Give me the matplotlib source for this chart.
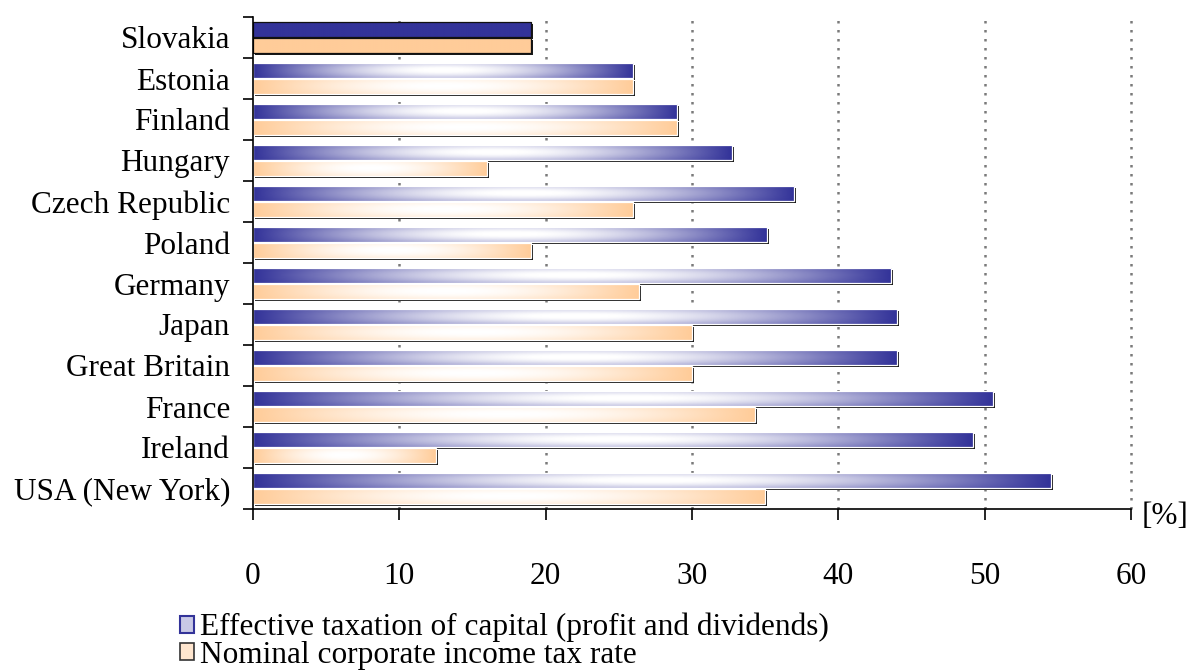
import numpy as np
import matplotlib
matplotlib.use('Agg')
import matplotlib.pyplot as plt
from matplotlib.patches import Rectangle, Patch
from matplotlib.colors import to_rgb
import matplotlib.transforms as mtransforms

countries = ['Slovakia', 'Estonia', 'Finland', 'Hungary', 'Czech Republic', 'Poland',
             'Germany', 'Japan', 'Great Britain', 'France', 'Ireland', 'USA (New York)']
effective = [19, 26, 29, 32.7, 37, 35.1, 43.6, 44, 44, 50.6, 49.2, 54.5]
nominal = [19, 26, 29, 16, 26, 19, 26.4, 30, 30, 34.3, 12.5, 35]
xticks = [0, 10, 20, 30, 40, 50, 60]
series_labels = ['Effective taxation of capital (profit and dividends)',
                 'Nominal corporate income tax rate']

BLUE = '#333399'
ORANGE = '#FFCC99'
FONT = 'Liberation Serif'
FS = 22.5

plt.rcParams['font.family'] = [FONT, 'DejaVu Serif']

fig = plt.figure(figsize=(11.89, 6.71), dpi=100)
ax = fig.add_axes([253/1189, 1-509/671, 878/1189, 492/671])

n = len(countries)
h = 0.38


def grad_array(base, solid=False):
    nx, ny = 300, 24
    b = np.array(to_rgb(base))
    if solid:
        return np.tile(b, (ny, nx, 1))
    t = np.linspace(0, 1, nx)
    s = np.linspace(0, 1, ny)
    wh = np.sin(np.pi * t)
    wv = 0.72 + 0.28 * np.sin(np.pi * s)
    w = np.clip(wv[:, None] * wh[None, :] * 1.02, 0, 1)
    return b[None, None, :] + (1 - b[None, None, :]) * w[:, :, None]


shadow_tr = mtransforms.offset_copy(ax.transData, fig=fig, x=2, y=-2, units='dots')


def draw_bar(x, yc, color, solid):
    y0 = yc - h / 2
    sh = Rectangle((0, y0), x, h, transform=shadow_tr, facecolor='#1a1a1a',
                   edgecolor='none', zorder=2)
    ax.add_patch(sh)
    rect = Rectangle((0, y0), x, h, facecolor='none',
                     edgecolor='#111111' if solid else 'white', lw=0.9, zorder=4)
    ax.add_patch(rect)
    im = ax.imshow(grad_array(color, solid), extent=[0, x, y0, y0 + h],
                   aspect='auto', interpolation='bilinear', zorder=3, origin='lower')
    im.set_clip_path(rect)


for i, (c, e, nm) in enumerate(zip(countries, effective, nominal)):
    y = n - 1 - i
    solid = (i == 0)
    draw_bar(e, y + h / 2 + 0.005, BLUE, solid)
    draw_bar(nm, y - h / 2 - 0.005, ORANGE, solid)

ax.set_xlim(0, 60)
ax.set_ylim(-0.5, n - 0.5)

for xv in xticks[1:]:
    ax.axvline(xv, color='#7a7a7a', lw=1.8, linestyle=(0, (1, 2.6)), zorder=1,
               clip_on=False)

ax.set_xticks(xticks)
ax.set_xticklabels([str(v) for v in xticks], fontsize=FS)
ax.set_yticks(np.arange(n))
ax.set_yticklabels(countries[::-1], fontsize=FS)
ax.set_yticks(np.arange(n + 1) - 0.5, minor=True)
ax.tick_params(axis='y', which='major', length=0, pad=16.5)
ax.tick_params(axis='y', which='minor', length=7, width=1.2, direction='out')
ax.tick_params(axis='x', which='major', length=8, width=1.2, direction='out', pad=30)

for sp in ['top', 'right']:
    ax.spines[sp].set_visible(False)
for sp in ['left', 'bottom']:
    ax.spines[sp].set_linewidth(1.2)
    ax.spines[sp].set_zorder(5)

fig.text(1165/1189, 1-516/671, '[%]', ha='center', va='center', fontsize=FS)

handles = [Patch(facecolor='#c9c9e6', edgecolor=BLUE, lw=1.5),
           Patch(facecolor='#ffe6cf', edgecolor='#333333', lw=1.2)]
fig.legend(handles, series_labels, loc='upper left',
           bbox_to_anchor=(180/1189, 1-613/671), frameon=False, fontsize=FS,
           handlelength=0.45, handleheight=0.45, handletextpad=0.2,
           labelspacing=-0.06, borderpad=0, borderaxespad=0)

fig.savefig('out.png', dpi=100)
